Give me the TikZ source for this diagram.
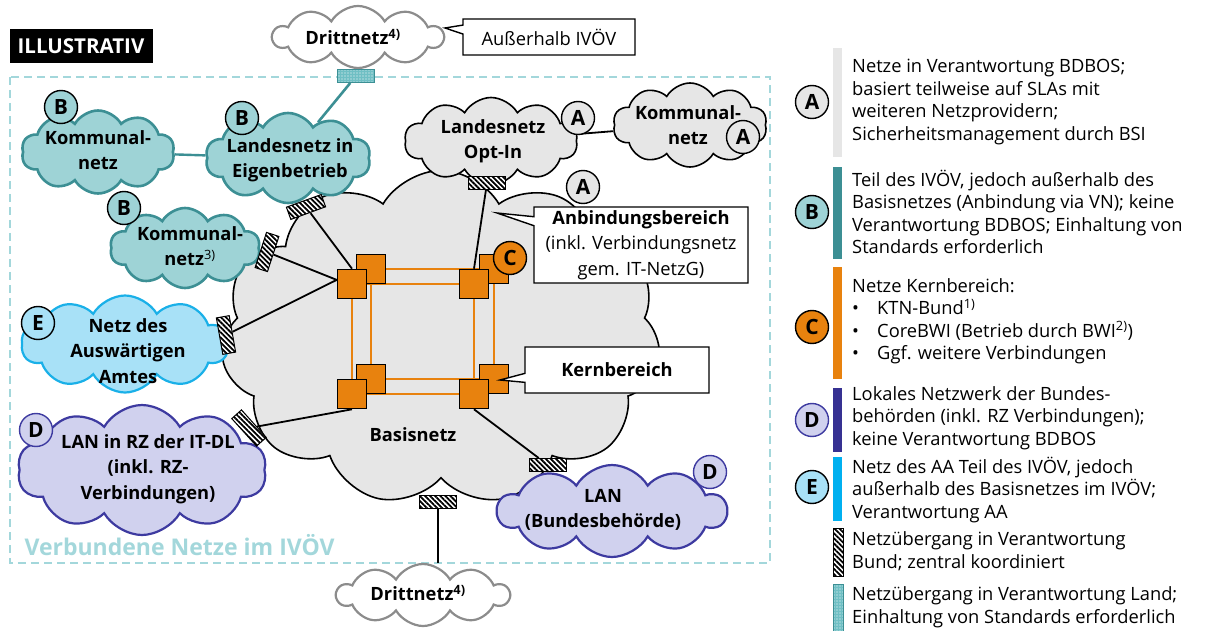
\documentclass[tikz,border=0pt]{standalone}
\usepackage{fontspec}
\setmainfont{Open Sans}
\usepackage{tikz}
\usetikzlibrary{positioning}
\usetikzlibrary{shapes.symbols, shapes.callouts}
\usetikzlibrary{patterns.meta}

\definecolor{tealfill}{HTML}{9ED3D6}
\definecolor{tealline}{HTML}{3C8F94}
\definecolor{tealgw}{HTML}{6FBFC4}
\definecolor{bluefill}{HTML}{A8E1F7}
\definecolor{blueline}{HTML}{1AB0E8}
\definecolor{lilafill}{HTML}{D0D1EE}
\definecolor{lilaline}{HTML}{3D3AA0}
\definecolor{lilabar}{HTML}{363192}
\definecolor{grayfill}{HTML}{E6E6E6}
\definecolor{kernorange}{HTML}{E8820E}
\definecolor{framecol}{HTML}{A3D7DB}
\definecolor{drittgray}{HTML}{8C8C8C}
\definecolor{cyanbar}{HTML}{00B0F0}

\begin{document}
\begin{tikzpicture}[x=1pt, y=-1pt, font=\fontsize{18.3}{22.5}\selectfont,
    wolke/.style={cloud, cloud puffs=10, cloud puff arc=120, cloud ignores aspect, inner sep=0pt},
    netzA/.style={wolke, fill=grayfill, draw=black, line width=1.6pt},
    netzB/.style={wolke, fill=tealfill, draw=tealline, line width=2.6pt},
    netzD/.style={wolke, fill=lilafill, draw=lilaline, line width=2.2pt},
    netzE/.style={wolke, fill=bluefill, draw=blueline, line width=2.2pt},
    dritt/.style={wolke, fill=white, draw=drittgray, line width=2.2pt},
    wtext/.style={align=center, inner sep=0pt, font=\fontsize{18.3}{25.5}\selectfont\bfseries},
    marke/.style={circle, draw, line width=1.4pt, minimum size=33pt, inner sep=0pt, font=\fontsize{21}{21}\selectfont\bfseries},
    kern/.style={rectangle, draw, fill=kernorange, line width=1.6pt, minimum size=29pt, inner sep=0pt},
    kernlinie/.style={draw=kernorange, line width=2pt},
    verb/.style={line width=1.8pt},
    gwbund/.style={rectangle, draw, line width=1pt, minimum width=37pt, minimum height=13pt, inner sep=0pt,
      preaction={fill=white}, pattern={Lines[angle=-45, distance=3.6pt, line width=1.8pt]}},
    gwland/.style={rectangle, draw=tealline, line width=1pt, minimum width=37pt, minimum height=13pt, inner sep=0pt,
      preaction={fill=tealgw}, pattern={Dots[distance=3pt, radius=0.7pt]}, pattern color=white},
    hinweis/.style={rectangle callout, draw, fill=white, line width=1.4pt, align=center, inner sep=0pt, callout pointer width=9pt},
    legtext/.style={anchor=west, align=left, inner sep=0pt}
  ]

  \useasboundingbox (0,0) rectangle (1205,631);

  % frame of the connected networks
  \draw[framecol, line width=2.4pt, dash pattern=on 8pt off 5pt] (10,77) rectangle (770,563);
  \node[anchor=west, text=framecol, font=\fontsize{23}{23}\selectfont\bfseries] (rahmentext) at (21,545) {Verbundene Netze im IVÖV};

  \node[fill=black, text=white, font=\fontsize{20.5}{20.5}\selectfont\bfseries, minimum width=143pt, minimum height=34pt, inner sep=0pt] (illu) at (81,46) {ILLUSTRATIV};

  % Basisnetz
  \node[netzA, cloud puffs=11, minimum width=440pt, minimum height=335pt] (basis) at (441,338) {};
  \node[wtext] (basist) at (413,435) {Basisnetz};

  % Kernbereich
  \coordinate (tl-F) at (352,284); \coordinate (tl-B) at (371,269);
  \coordinate (tr-F) at (474,284); \coordinate (tr-B) at (494,269);
  \coordinate (bl-F) at (352,394); \coordinate (bl-B) at (371,379);
  \coordinate (br-F) at (474,394); \coordinate (br-B) at (494,379);

  \draw[kernlinie] (tl-F) -- (tr-F) -- (br-F) -- (bl-F) -- cycle;
  \draw[kernlinie] (tl-B) -- (tr-B) -- (br-B) -- (bl-B) -- cycle;

  \foreach \n in {tl,tr,bl,br} {
    \node[kern] (\n-back) at (\n-B) {};
    \node[kern] (\n-front) at (\n-F) {};
  }
  \node[marke, fill=kernorange] (cKern) at (510,258) {C};

  % networks around
  \node[netzB, minimum width=153pt, minimum height=83pt] (kommB) at (98,152) {};
  \node[wtext] (kommBt) at (98,150) {Kommunal-\\netz};
  \node[netzB, minimum width=165pt, minimum height=90pt] (landB) at (288,158) {};
  \node[wtext] (landBt) at (290,160) {Landesnetz in\\Eigenbetrieb};
  \node[netzB, minimum width=150pt, minimum height=80pt] (kommB3) at (185,248) {};
  \node[wtext] (kommB3t) at (190,246) {Kommunal-\\netz\textsuperscript{\mdseries 3)}};

  \node[netzE, minimum width=207pt, minimum height=97pt] (netzAA) at (125,344) {};
  \node[wtext] (netzAAt) at (128,351) {Netz des\\Auswärtigen\\Amtes};

  \node[netzD, minimum width=249pt, minimum height=130pt] (lanRZ) at (142,470) {};
  \node[wtext] (lanRZt) at (148,469) {LAN in RZ der IT-DL\\(inkl. RZ-\\Verbindungen)};
  \node[netzD, minimum width=229pt, minimum height=92pt] (lanBB) at (612,511) {};
  \node[wtext] (lanBBt) at (603,510) {LAN\\(Bundesbehörde)};

  \node[netzA, minimum width=173pt, minimum height=87pt] (optIn) at (491,141) {};
  \node[wtext] (optInt) at (493,141) {Landesnetz\\Opt-In};
  \node[netzA, minimum width=154pt, minimum height=84pt] (kommA) at (690,125) {};
  \node[wtext] (kommAt) at (688,125) {Kommunal-\\netz};

  \node[dritt, minimum width=170pt, minimum height=62pt] (drittO) at (358,37) {};
  \node[wtext] (drittOt) at (353,37) {Drittnetz\textsuperscript{4)}};
  \node[dritt, minimum width=172pt, minimum height=62pt] (drittU) at (423,595) {};
  \node[wtext] (drittUt) at (418,593) {Drittnetz\textsuperscript{4)}};

  % gateways
  \node[gwbund, rotate=20] (gw1) at (306,207) {};
  \node[gwbund, rotate=72] (gw2) at (267,252) {};
  \node[gwbund, rotate=100] (gw3) at (226,335) {};
  \node[gwbund, rotate=-48] (gw4) at (249,428) {};
  \node[gwbund] (gw5) at (487,183) {};
  \node[gwbund] (gw6) at (548,465) {};
  \node[gwbund] (gw7) at (438,502) {};
  \node[gwland] (gwL) at (356,76) {};

  % connections
  \draw[verb] (gw1) -- (tl-front.north);
  \draw[verb] (gw2) -- (tl-front.165);
  \draw[verb] (gw3) -- (tl-front.165);
  \draw[verb] (gw4) -- (bl-front.south);
  \draw[verb] (gw5) -- (tr-front.north);
  \draw[verb] (gw6) -- (br-front.south);
  \draw[verb] (gw7) -- (gw7 |- drittU.north);
  \draw[verb] (optIn) -- (kommA);
  \draw[tealline, line width=2.6pt] (gwL) -- (landB.50);
  \draw[tealline, line width=2.4pt] (kommB) -- (landB);

  % letters
  \node[marke, fill=tealfill] (mB1) at (61,107) {B};
  \node[marke, fill=tealfill] (mB2) at (242,118) {B};
  \node[marke, fill=tealfill] (mB3) at (124,208) {B};
  \node[marke, fill=bluefill] (mE) at (38,323) {E};
  \node[marke, fill=lilafill, draw=lilaline] (mD1) at (36,430) {D};
  \node[marke, fill=lilafill, draw=lilaline] (mD2) at (710,472) {D};
  \node[marke, fill=grayfill] (mA1) at (578,118) {A};
  \node[marke, fill=grayfill] (mA2) at (743,137) {A};
  \node[marke, fill=grayfill] (mA3) at (583,187) {A};

  % callouts
  \node[hinweis, minimum width=172pt, minimum height=36pt, callout absolute pointer={(445,28)}] (aussen) at (549,37) {Außerhalb IVÖV};
  \node[hinweis, minimum width=214pt, minimum height=76pt, callout absolute pointer={(497,213)}, font=\fontsize{18.3}{25.5}\selectfont] (anbind) at (641,245) {\textbf{Anbindungsbereich}\\(inkl. Verbindungsnetz\\gem. IT-NetzG)};
  \node[hinweis, minimum width=184pt, minimum height=46pt, callout absolute pointer={(500,380)}] (kernb) at (617,370) {\textbf{Kernbereich}};

  % legend
  \fill[grayfill] (833,48) rectangle (842,157);
  \node[marke, fill=grayfill] (legA) at (812,102) {A};
  \node[legtext] (legAt) at (852,102) {Netze in Verantwortung BDBOS;\\basiert teilweise auf SLAs mit\\weiteren Netzprovidern;\\Sicherheitsmanagement durch BSI};

  \fill[tealline] (833,167) rectangle (842,259);
  \node[marke, fill=tealfill] (legB) at (812,212) {B};
  \node[legtext] (legBt) at (852,212) {Teil des IVÖV, jedoch außerhalb des\\Basisnetzes (Anbindung via VN); keine\\Verantwortung BDBOS; Einhaltung von\\Standards erforderlich};

  \fill[kernorange] (833,267) rectangle (842,379);
  \node[marke, fill=kernorange] (legC) at (812,327) {C};
  \node[legtext] (legCt) at (852,321) {Netze Kernbereich:\\
    \makebox[25pt][l]{\textbullet}KTN-Bund\textsuperscript{1)}\\
    \makebox[25pt][l]{\textbullet}CoreBWI (Betrieb durch BWI\textsuperscript{2)})\\
    \makebox[25pt][l]{\textbullet}Ggf. weitere Verbindungen};

  \fill[lilabar] (833,388) rectangle (842,452);
  \node[marke, fill=lilafill, draw=lilaline] (legD) at (812,420) {D};
  \node[legtext] (legDt) at (852,418) {Lokales Netzwerk der Bundes-\\behörden (inkl. RZ Verbindungen);\\keine Verantwortung BDBOS};

  \fill[cyanbar] (833,457) rectangle (842,521);
  \node[marke, fill=bluefill] (legE) at (812,487) {E};
  \node[legtext] (legEt) at (852,490) {Netz des AA Teil des IVÖV, jedoch\\außerhalb des Basisnetzes im IVÖV;\\Verantwortung AA};

  \draw[line width=1pt, preaction={fill=white}, pattern={Lines[angle=-45, distance=3.6pt, line width=1.8pt]}] (833,528) rectangle (843,576);
  \node[legtext] (legGt) at (852,551) {Netzübergang in Verantwortung\\Bund; zentral koordiniert};

  \draw[tealline, line width=1pt, preaction={fill=tealgw}, pattern={Dots[distance=3pt, radius=0.7pt]}, pattern color=white] (833,584) rectangle (843,631);
  \node[legtext] (legLt) at (852,607) {Netzübergang in Verantwortung Land;\\Einhaltung von Standards erforderlich};

\end{tikzpicture}
\end{document}
